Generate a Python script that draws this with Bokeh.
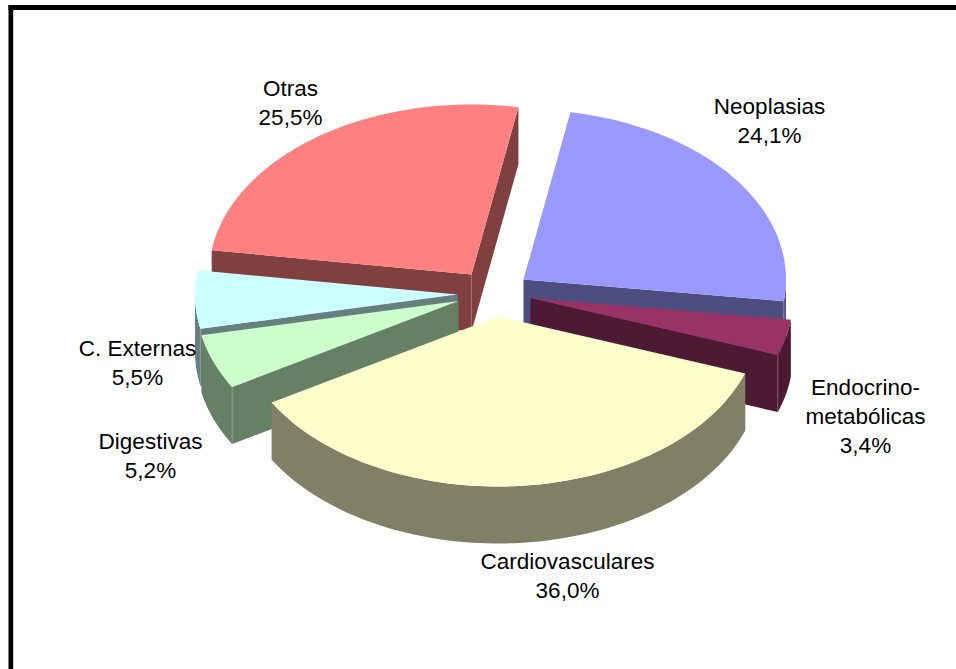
import numpy as np
from bokeh.plotting import figure
from bokeh.models import Range1d, ColumnDataSource
from bokeh.core.properties import value
from bokeh.embed import file_html
from bokeh.resources import INLINE

# data
categories = ["Neoplasias", "Endocrino-metabólicas", "Cardiovasculares", "Digestivas", "C. Externas", "Otras"]
percent = [24.1, 3.4, 36.0, 5.2, 5.5, 25.5]
percent_labels = ["24,1%", "3,4%", "36,0%", "5,2%", "5,5%", "25,5%"]
name_lines = [["Neoplasias"], ["Endocrino-", "metabólicas"], ["Cardiovasculares"], ["Digestivas"], ["C. Externas"], ["Otras"]]

# style / layout
top_colors = ["#9999FF", "#993366", "#FFFFCC", "#CCFFCC", "#CCFFFF", "#FF8080"]
side_colors = ["#4D4D80", "#4D1A33", "#808066", "#668066", "#668080", "#804040"]
edge_colors = ["#8585AA", "#7A5468", "#99998A", "#8A9E8A", "#8A9E9E", "#A87070"]
cx, cy = 493, 293
explode_dx = [30, 37, 4.5, -35, -36, -22]
explode_dy = [-14, 4.5, 23, 7.5, 1, -19]
rx, ry, depth = 262.5, 170, 57
start_deg = 10.3
draw_order = [5, 0, 1, 4, 3, 2]
label_x = [769, 865, 567, 150, 137, 290]
label_y = [106, 387, 561, 441, 348, 88]
line_h = 29
W, H = 956, 669

p = figure(width=W, height=H, output_backend="svg", toolbar_location=None,
           x_range=Range1d(0, W), y_range=Range1d(H, 0),
           min_border=0, outline_line_color=None, background_fill_color="white",
           border_fill_color="white")
p.axis.visible = False
p.grid.visible = False

# frame (left and top)
p.quad(left=[8, 8], right=[12.7, W], top=[4.5, 4.5], bottom=[H, 9.5], fill_color="black", line_color=None)

sweep = 360 * np.array(percent) / sum(percent)
edges = start_deg + np.concatenate([[0], np.cumsum(sweep)])

for i in draw_order:
    t0, t1 = edges[i], edges[i + 1]
    th = np.radians(np.linspace(t0, t1, 90))
    ax, ay = cx + explode_dx[i], cy + explode_dy[i]
    rim_x = ax + rx * np.sin(th)
    rim_y = ay - ry * np.cos(th)
    c = side_colors[i]
    # rim wall: only the part that faces the viewer
    front = np.cos(th) < 0
    if front.any():
        fx, fy = rim_x[front], rim_y[front]
        p.patch(np.r_[fx, fx[::-1]], np.r_[fy, fy[::-1] + depth], fill_color=c, line_color=None)
    # radial walls that face the viewer
    s0, s1 = np.sin(np.radians(t0)), np.sin(np.radians(t1))
    c0, c1 = np.cos(np.radians(t0)), np.cos(np.radians(t1))
    for k, vis in ((0, s0 < 0), (-1, s1 > 0)):
        if vis:
            p.patch([ax, rim_x[k], rim_x[k], ax], [ay, rim_y[k], rim_y[k] + depth, ay + depth],
                    fill_color=c, line_color=None)
    # corner highlights
    if s0 < 0 and c0 < 0:
        p.line([rim_x[0]] * 2, [rim_y[0], rim_y[0] + depth], line_color=edge_colors[i], line_width=1)
    if s1 > 0 and c1 < 0:
        p.line([rim_x[-1]] * 2, [rim_y[-1], rim_y[-1] + depth], line_color=edge_colors[i], line_width=1)
    if s0 < 0 and s1 > 0:
        p.line([ax, ax], [ay, ay + depth], line_color=edge_colors[i], line_width=1)
    # top face
    p.patch(np.r_[ax, rim_x], np.r_[ay, rim_y], fill_color=top_colors[i], line_color=None)

# labels
tx, ty, tt = [], [], []
for i in range(len(categories)):
    lines = name_lines[i] + [percent_labels[i]]
    for j, s in enumerate(lines):
        tx.append(label_x[i]); ty.append(label_y[i] + j * line_h); tt.append(s)
src = ColumnDataSource(dict(x=tx, y=ty, text=tt))
p.text(x="x", y="y", text="text", source=src, text_font=value("Liberation Sans"), text_font_size="22.5px",
       text_align="center", text_baseline="middle", text_color="black")

open("out.html", "w").write(file_html(p, INLINE))
